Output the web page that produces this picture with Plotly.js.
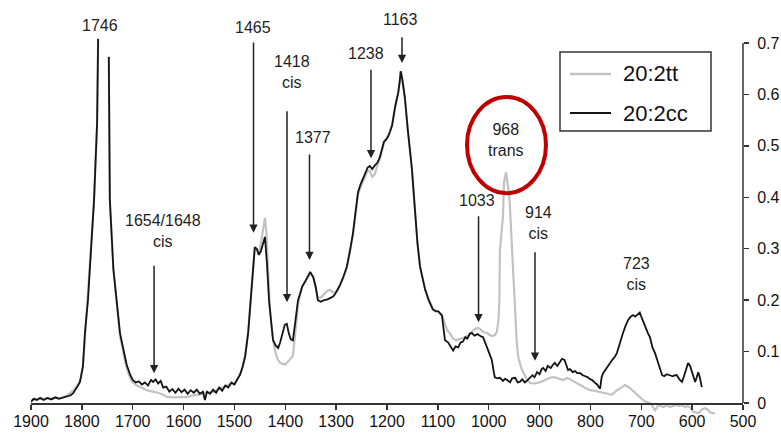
<!DOCTYPE html>
<html>
<head>
<meta charset="utf-8">
<script src="https://cdn.plot.ly/plotly-3.0.1.min.js"></script>
<style>
  html, body { margin: 0; padding: 0; background: #fff; }
  #chart { width: 781px; height: 435px; }
</style>
</head>
<body>
<div id="chart"></div>
<script>
// FT-IR spectra of 20:2 fatty acid esters, wavenumber (cm-1) vs absorbance

// 20:2cc (cis,cis) spectrum
const ccWavenumber = [
  1900,1895,1888,1882,1875,1868,1860,1852,1845,1838,1830,1822,1817,1810,1804,1798,1794,1788,1782,1776,1770,1768,
  1757,
  1747,1745,1738,1732,1725,1718,1712,1705,1700,1694,1688,1682,1676,1670,1664,1660,1655,1650,1645,1640,1634,1628,
  1622,1616,1610,1604,1598,1592,1586,1580,1574,1568,1562,1558,1554,1548,1542,1536,1530,1524,1518,1512,1506,1500,
  1494,1489,1484,1479,1473,1469,1466,1463,1460,1456,1452,1448,1444,1440,1436,1432,1428,1424,1419,1414,1410,1405,
  1401,1397,1393,1389,1385,1380,1375,1371,1367,1360,1351,1345,1340,1336,1330,1324,1318,1312,1306,1302,1297,1293,
  1286,1279,1273,1267,1262,1257,1252,1247,1243,1238,1234,1229,1224,1219,1214,1210,1206,1202,1198,1194,1190,1184,
  1178,1175,1173,1170,1165,1159,1155,1151,1145,1140,1135,1130,1125,1118,1110,1104,1099,1092,1088,1086,1080,1075,
  1070,1065,1060,1055,1051,1046,1042,1037,1033,1028,1022,1016,1011,1006,1001,997,994,990,988,983,978,972,968,964,
  958,954,948,943,939,934,929,924,919,914,910,905,900,896,893,888,884,878,874,870,865,860,856,851,847,844,840,835,
  830,826,820,815,810,805,800,797,792,787,781,778,775,770,766,762,757,752,748,744,740,736,731,726,721,716,712,708,
  703,700,697,692,687,683,678,673,668,663,659,655,650,644,638,634,630,625,620,616,612,608,604,600,597,594,591,588,
  585,581
];
const ccAbsorbance = [
  0.002,0.008,0.006,0.010,0.006,0.010,0.007,0.011,0.008,0.010,0.012,0.015,0.019,0.030,0.040,0.070,0.136,0.200,0.300,0.395,0.545,0.708,
  null,
  0.673,0.395,0.260,0.200,0.136,0.103,0.075,0.055,0.045,0.040,0.042,0.036,0.040,0.034,0.045,0.041,0.046,0.038,0.043,0.030,0.032,0.022,
  0.027,0.020,0.028,0.021,0.026,0.018,0.025,0.020,0.026,0.018,0.022,0.006,0.022,0.018,0.026,0.020,0.030,0.024,0.034,0.030,0.040,0.036,
  0.048,0.055,0.070,0.090,0.136,0.190,0.233,0.280,0.303,0.300,0.288,0.295,0.312,0.323,0.270,0.200,0.160,0.122,0.112,0.107,0.118,0.135,
  0.152,0.154,0.135,0.124,0.122,0.160,0.200,0.212,0.226,0.238,0.255,0.245,0.225,0.200,0.197,0.200,0.201,0.204,0.207,0.212,0.220,0.228,
  0.245,0.265,0.295,0.330,0.370,0.410,0.425,0.437,0.445,0.458,0.461,0.455,0.462,0.467,0.478,0.492,0.508,0.512,0.518,0.528,0.540,0.576,
  0.603,0.625,0.645,0.630,0.595,0.530,0.490,0.455,0.375,0.310,0.265,0.240,0.220,0.200,0.182,0.178,0.178,0.170,0.140,0.122,0.118,0.110,
  0.102,0.110,0.108,0.118,0.119,0.128,0.125,0.135,0.136,0.131,0.134,0.130,0.128,0.115,0.103,0.090,0.084,0.060,0.050,0.048,0.049,0.043,0.047,0.045,
  0.040,0.048,0.049,0.040,0.041,0.046,0.040,0.044,0.050,0.054,0.050,0.060,0.056,0.066,0.068,0.062,0.072,0.068,0.074,0.078,0.072,0.080,0.086,0.084,0.072,0.064,0.066,0.060,
  0.062,0.058,0.058,0.054,0.052,0.050,0.046,0.045,0.040,0.036,0.028,0.050,0.058,0.066,0.072,0.078,0.084,0.090,0.097,0.110,0.124,0.136,0.150,0.161,0.168,0.171,0.168,0.172,
  0.176,0.168,0.160,0.150,0.136,0.128,0.108,0.097,0.080,0.064,0.054,0.052,0.056,0.054,0.052,0.054,0.054,0.046,0.041,0.052,0.068,0.078,0.072,0.060,0.050,0.041,0.050,0.060,
  0.050,0.031
];

// 20:2tt (trans,trans) spectrum
const ttWavenumber = [
  1900,1893,1885,1877,1868,1860,1850,1840,1830,1822,1815,1808,1802,1797,1793,1788,1782,1776,1770,1768,
  1757,
  1747,1745,1738,1732,1725,1718,1712,1705,1700,1692,1686,1678,1670,1660,1650,1640,1633,1620,1605,1593,1580,1565,
  1550,1540,1530,1518,1506,1500,1494,1489,1484,1479,1473,1469,1466,1463,1460,1456,1452,1448,1444,1440,1437,1434,
  1430,1425,1420,1415,1410,1405,1400,1395,1390,1385,1380,1375,1371,1367,1360,1351,1345,1340,1336,1330,1324,1318,
  1312,1306,1302,1297,1293,1286,1279,1273,1267,1262,1257,1252,1247,1243,1238,1234,1229,1224,1219,1214,1210,1206,
  1202,1198,1194,1190,1184,1178,1175,1173,1170,1165,1159,1155,1151,1145,1140,1135,1130,1125,1118,1110,1104,1099,
  1092,1088,1082,1076,1070,1064,1058,1052,1046,1040,1034,1028,1023,1018,1013,1008,1003,998,993,988,984,981,979,978,
  975,972,970,966,962,959,954,950,948,945,942,936,931,925,919,910,900,892,884,877,870,863,856,850,846,838,830,826,
  821,815,808,801,794,787,781,775,770,764,758,753,748,742,737,732,727,722,717,712,706,702,697,690,683,678,673,670,
  667,662,656,650,644,638,632,626,620,614,608,602,598,593,588,584,580,575,570,565,561,558,555
];
const ttAbsorbance = [
  0.004,0.007,0.008,0.008,0.009,0.009,0.010,0.010,0.014,0.020,0.026,0.034,0.048,0.080,0.140,0.200,0.300,0.395,0.545,0.708,
  null,
  0.673,0.395,0.260,0.200,0.130,0.095,0.068,0.048,0.040,0.034,0.031,0.028,0.024,0.022,0.020,0.016,0.012,0.011,0.012,0.012,0.015,0.018,
  0.020,0.022,0.028,0.032,0.038,0.036,0.048,0.055,0.070,0.092,0.140,0.190,0.235,0.280,0.300,0.298,0.290,0.310,0.340,0.360,0.330,0.250,
  0.180,0.130,0.100,0.085,0.078,0.076,0.075,0.080,0.086,0.092,0.140,0.190,0.210,0.225,0.238,0.250,0.245,0.225,0.205,0.205,0.212,0.218,
  0.220,0.215,0.214,0.220,0.228,0.243,0.262,0.290,0.325,0.365,0.405,0.420,0.430,0.440,0.452,0.452,0.440,0.445,0.462,0.475,0.490,0.506,
  0.512,0.518,0.528,0.540,0.576,0.603,0.625,0.645,0.630,0.595,0.530,0.490,0.455,0.375,0.310,0.265,0.240,0.222,0.202,0.184,0.180,0.178,
  0.172,0.158,0.142,0.135,0.125,0.122,0.124,0.126,0.128,0.132,0.138,0.143,0.146,0.145,0.140,0.137,0.136,0.132,0.130,0.132,0.138,0.160,0.200,0.297,
  0.330,0.362,0.428,0.449,0.420,0.395,0.297,0.220,0.167,0.120,0.090,0.068,0.058,0.046,0.039,0.038,0.040,0.044,0.048,0.050,0.050,0.048,0.045,0.046,0.049,0.045,0.040,0.039,
  0.035,0.032,0.028,0.025,0.024,0.022,0.021,0.020,0.019,0.018,0.016,0.020,0.025,0.028,0.032,0.035,0.032,0.029,0.024,0.019,0.014,0.010,0.006,0.002,0.000,-0.006,-0.014,-0.010,
  -0.004,-0.006,-0.008,-0.004,-0.008,-0.006,-0.004,-0.006,-0.004,-0.008,-0.006,-0.010,-0.017,-0.018,-0.020,-0.016,-0.012,-0.010,-0.012,-0.018,-0.020,-0.020,-0.019
];

// Axis ticks
const xTicks = [1900,1800,1700,1600,1500,1400,1300,1200,1100,1000,900,800,700,600,500];
const yTicks = [0,0.1,0.2,0.3,0.4,0.5,0.6,0.7];
const yTickText = ['0','0.1','0.2','0.3','0.4','0.5','0.6','0.7'];

// Band assignments: label text and where it sits
const bandLabels = ['1746','1465','1418<br>cis','1377','1238','1163','968<br>trans','1033','914<br>cis','1654/1648<br>cis','723<br>cis'];
const bandLabelX = [1764,1463.5,1387,1345.5,1241,1172.5,967,1023,903,1640.5,710];
const bandLabelY = [0.735,0.731,0.644,0.517,0.679,0.745,0.511,0.393,0.35,0.334,0.251];

// Pointer arrows: tail (top) and head (tip)
const arrowX = [1462.5,1396.6,1352.4,1231.5,1170.5,1020,909,1658];
const arrowTop = [0.704,0.570,0.486,0.651,0.714,0.366,0.296,0.270];
const arrowTip = [0.331,0.196,0.278,0.476,0.661,0.157,0.082,0.058];

// Series legend entries
const seriesNames = ['20:2tt', '20:2cc'];
const seriesColors = ['#c2c2c2', '#141414'];
const seriesWidths = [2.2, 1.8];

const W = 781, H = 435, ML = 31, MR = 38;
const Y_MIN = -0.0622, Y_MAX = 0.7836;
const frac = v => (v - Y_MIN) / (Y_MAX - Y_MIN);
// pixel position -> paper fraction
const px = x => (x - ML) / (W - ML - MR);
const py = y => (H - y) / H;
const FONT = '"Liberation Sans", Arial, sans-serif';

const traces = [
  {
    x: ttWavenumber, y: ttAbsorbance, name: seriesNames[0], type: 'scatter', mode: 'lines',
    line: { color: seriesColors[0], width: seriesWidths[0] }, connectgaps: false
  },
  {
    x: ccWavenumber, y: ccAbsorbance, name: seriesNames[1], type: 'scatter', mode: 'lines',
    line: { color: seriesColors[1], width: seriesWidths[1] }, connectgaps: false
  }
];

const annotations = [];
bandLabels.forEach((t, i) => {
  annotations.push({
    x: bandLabelX[i], y: bandLabelY[i], xref: 'x', yref: 'y',
    text: t, showarrow: false, xanchor: 'center', yanchor: 'middle',
    font: { family: FONT, size: 16, color: '#1e1e1e' }
  });
});
arrowX.forEach((x, i) => {
  annotations.push({
    x: x, y: arrowTip[i], ax: x, ay: arrowTop[i],
    xref: 'x', yref: 'y', axref: 'x', ayref: 'y',
    text: '', showarrow: true, arrowhead: 2, arrowsize: 1.1, arrowwidth: 1.5,
    arrowcolor: '#222', standoff: 0, startstandoff: 0
  });
});

// Boxed legend in the upper right
const legendRows = [74, 113];
const shapes = [
  // right-hand absorbance axis line, 0 to 0.7
  { type: 'line', xref: 'paper', yref: 'paper', x0: 1, x1: 1, y0: frac(0), y1: frac(0.7),
    line: { color: '#333', width: 1.5 } },
  // highlight around the trans band
  { type: 'circle', xref: 'x', yref: 'y', x0: 1042.7, x1: 887.4, y0: 0.408, y1: 0.595,
    line: { color: '#c00000', width: 4 } },
  { type: 'rect', xref: 'paper', yref: 'paper', x0: px(560), x1: px(711), y0: py(131), y1: py(52),
    line: { color: '#333', width: 1.5 }, fillcolor: '#fff', layer: 'below' }
];
seriesNames.forEach((name, i) => {
  shapes.push({ type: 'line', xref: 'paper', yref: 'paper',
    x0: px(570), x1: px(611), y0: py(legendRows[i]), y1: py(legendRows[i]),
    line: { color: seriesColors[i], width: seriesWidths[i] + 0.4 } });
  annotations.push({ xref: 'paper', yref: 'paper', x: px(621), y: py(legendRows[i]),
    text: name, showarrow: false, xanchor: 'left', yanchor: 'middle',
    font: { family: FONT, size: 22, color: '#111' } });
});

const layout = {
  width: W, height: H,
  margin: { l: ML, r: MR, t: 0, b: 0 },
  paper_bgcolor: '#fff', plot_bgcolor: 'rgba(0,0,0,0)',
  showlegend: false,
  xaxis: {
    range: [1900, 500], anchor: 'free', position: frac(0),
    tickvals: xTicks, ticktext: xTicks.map(String),
    ticks: 'outside', ticklen: 5, tickwidth: 1.5, tickcolor: '#333',
    ticklabelstandoff: -2,
    showline: true, linecolor: '#333', linewidth: 1.5,
    showgrid: false, zeroline: false,
    tickfont: { family: FONT, size: 16, color: '#111' }
  },
  yaxis: {
    range: [Y_MIN, Y_MAX], side: 'right', anchor: 'x',
    tickvals: yTicks, ticktext: yTickText,
    ticks: 'outside', ticklen: 5, tickwidth: 1.5, tickcolor: '#333',
    ticklabelstandoff: 5,
    showline: false, showgrid: false, zeroline: false,
    tickfont: { family: FONT, size: 16, color: '#111' }
  },
  shapes: shapes,
  annotations: annotations
};

Plotly.newPlot('chart', traces, layout, { displayModeBar: false, staticPlot: true });
</script>
</body>
</html>
